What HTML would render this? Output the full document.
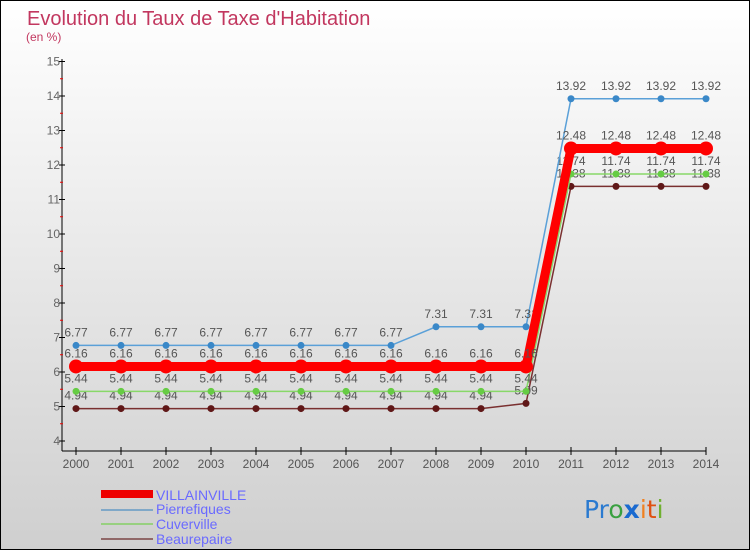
<!DOCTYPE html>
<html><head><meta charset="utf-8"><style>
body{margin:0}
#c{width:748px;height:548px;border:1px solid #000;background:linear-gradient(#ffffff,#cfcfcf);position:relative;overflow:hidden;font-family:"Liberation Sans",sans-serif}
</style></head><body>
<div id="c">
<svg id="s" width="748" height="548" style="position:absolute;left:0;top:0" font-family="'Liberation Sans',sans-serif">
<text x="26" y="24" font-size="20" fill="#c2375f">Evolution du Taux de Taxe d'Habitation</text>
<text x="25" y="40" font-size="12" fill="#c2375f">(en %)</text>
<g id="axes"></g><g id="series"></g>
<g>
<rect x="100" y="489" width="52" height="8" fill="#ee0000"/>
<text x="155" y="499" font-size="14" fill="#6a6aff">VILLAINVILLE</text>
<line x1="100" y1="509" x2="152" y2="509" stroke="#80a8c8" stroke-width="2"/>
<text x="155" y="513" font-size="14" fill="#6a6aff">Pierrefiques</text>
<line x1="100" y1="523" x2="152" y2="523" stroke="#98d080" stroke-width="2"/>
<text x="155" y="528" font-size="14" fill="#6a6aff">Cuverville</text>
<line x1="100" y1="538" x2="152" y2="538" stroke="#906868" stroke-width="2"/>
<text x="155" y="543" font-size="14" fill="#6a6aff">Beaurepaire</text>
</g>
<g font-size="25" font-family="'DejaVu Sans',sans-serif">
<text x="583" y="517"><tspan fill="#2a7ad0">Pr</tspan><tspan fill="#3aa040">o</tspan><tspan fill="#1a6ad0" font-weight="bold">x</tspan><tspan fill="#f08020">i</tspan><tspan fill="#e05010">t</tspan><tspan fill="#70b030">i</tspan></text>
</g>
</svg>
</div>
<script>
const years=[2000,2001,2002,2003,2004,2005,2006,2007,2008,2009,2010,2011,2012,2013,2014];
const villainville=[6.16,6.16,6.16,6.16,6.16,6.16,6.16,6.16,6.16,6.16,6.16,12.48,12.48,12.48,12.48];
const pierrefiques=[6.77,6.77,6.77,6.77,6.77,6.77,6.77,6.77,7.31,7.31,7.31,13.92,13.92,13.92,13.92];
const cuverville=[5.44,5.44,5.44,5.44,5.44,5.44,5.44,5.44,5.44,5.44,5.44,11.74,11.74,11.74,11.74];
const beaurepaire=[4.94,4.94,4.94,4.94,4.94,4.94,4.94,4.94,4.94,4.94,5.09,11.38,11.38,11.38,11.38];
const yTicks=[4,5,6,7,8,9,10,11,12,13,14,15];
const NS="http://www.w3.org/2000/svg";
function X(i){return 75+i*45;}
function Y(v){return 440-(v-4)*34.5;}
function mk(t,a,p){const e=document.createElementNS(NS,t);for(const k in a)e.setAttribute(k,a[k]);p.appendChild(e);return e;}
const ax=document.getElementById('axes');
let l=mk('line',{x1:61,y1:58,x2:61,y2:450,stroke:'#000'},ax);


l=mk('line',{x1:61,y1:450,x2:X(14),y2:450,stroke:'#000'},ax);


yTicks.forEach(v=>{
 mk('line',{x1:58,y1:Y(v),x2:64,y2:Y(v),stroke:'#000'},ax);
 if(v<15)mk('line',{x1:59,y1:Y(v+0.5),x2:62,y2:Y(v+0.5),stroke:'#e00'},ax);
 const t=mk('text',{x:59,y:Y(v)+4,'font-size':12,fill:'#666','text-anchor':'end'},ax);t.textContent=v;
 
 
});
years.forEach((yr,i)=>{
 mk('line',{x1:X(i),y1:446,x2:X(i),y2:454,stroke:'#000'},ax);
 const t=mk('text',{x:X(i),y:467,'font-size':12,fill:'#555','text-anchor':'middle'},ax);t.textContent=yr;
 
 
});
const sg=document.getElementById('series');
function draw(name,vals,color,w,r,dark){
 const g=mk('g',{},sg);
 
 
 mk('polyline',{points:vals.map((v,i)=>X(i)+','+Y(v)).join(' '),fill:'none',stroke:color,'stroke-width':w},g);
 vals.forEach((v,i)=>{
  const c=mk('circle',{cx:X(i),cy:Y(v),r:r,fill:dark||color},g);
  
  
  const t=mk('text',{x:X(i),y:Y(v)-9,'font-size':12,fill:'#555','text-anchor':'middle'},g);
  t.textContent=v.toFixed(2);
  
  
 });
}
draw('beaurepaire',beaurepaire,'#7a3030',1.5,3.5,'#601818');
draw('cuverville',cuverville,'#88d868',1.5,3.5,'#66cc44');
draw('pierrefiques',pierrefiques,'#5aa0d8',1.5,3.5,'#3a88c8');
draw('villainville',villainville,'#ff0000',9,7,'#ff0000');
</script>
</body></html>
